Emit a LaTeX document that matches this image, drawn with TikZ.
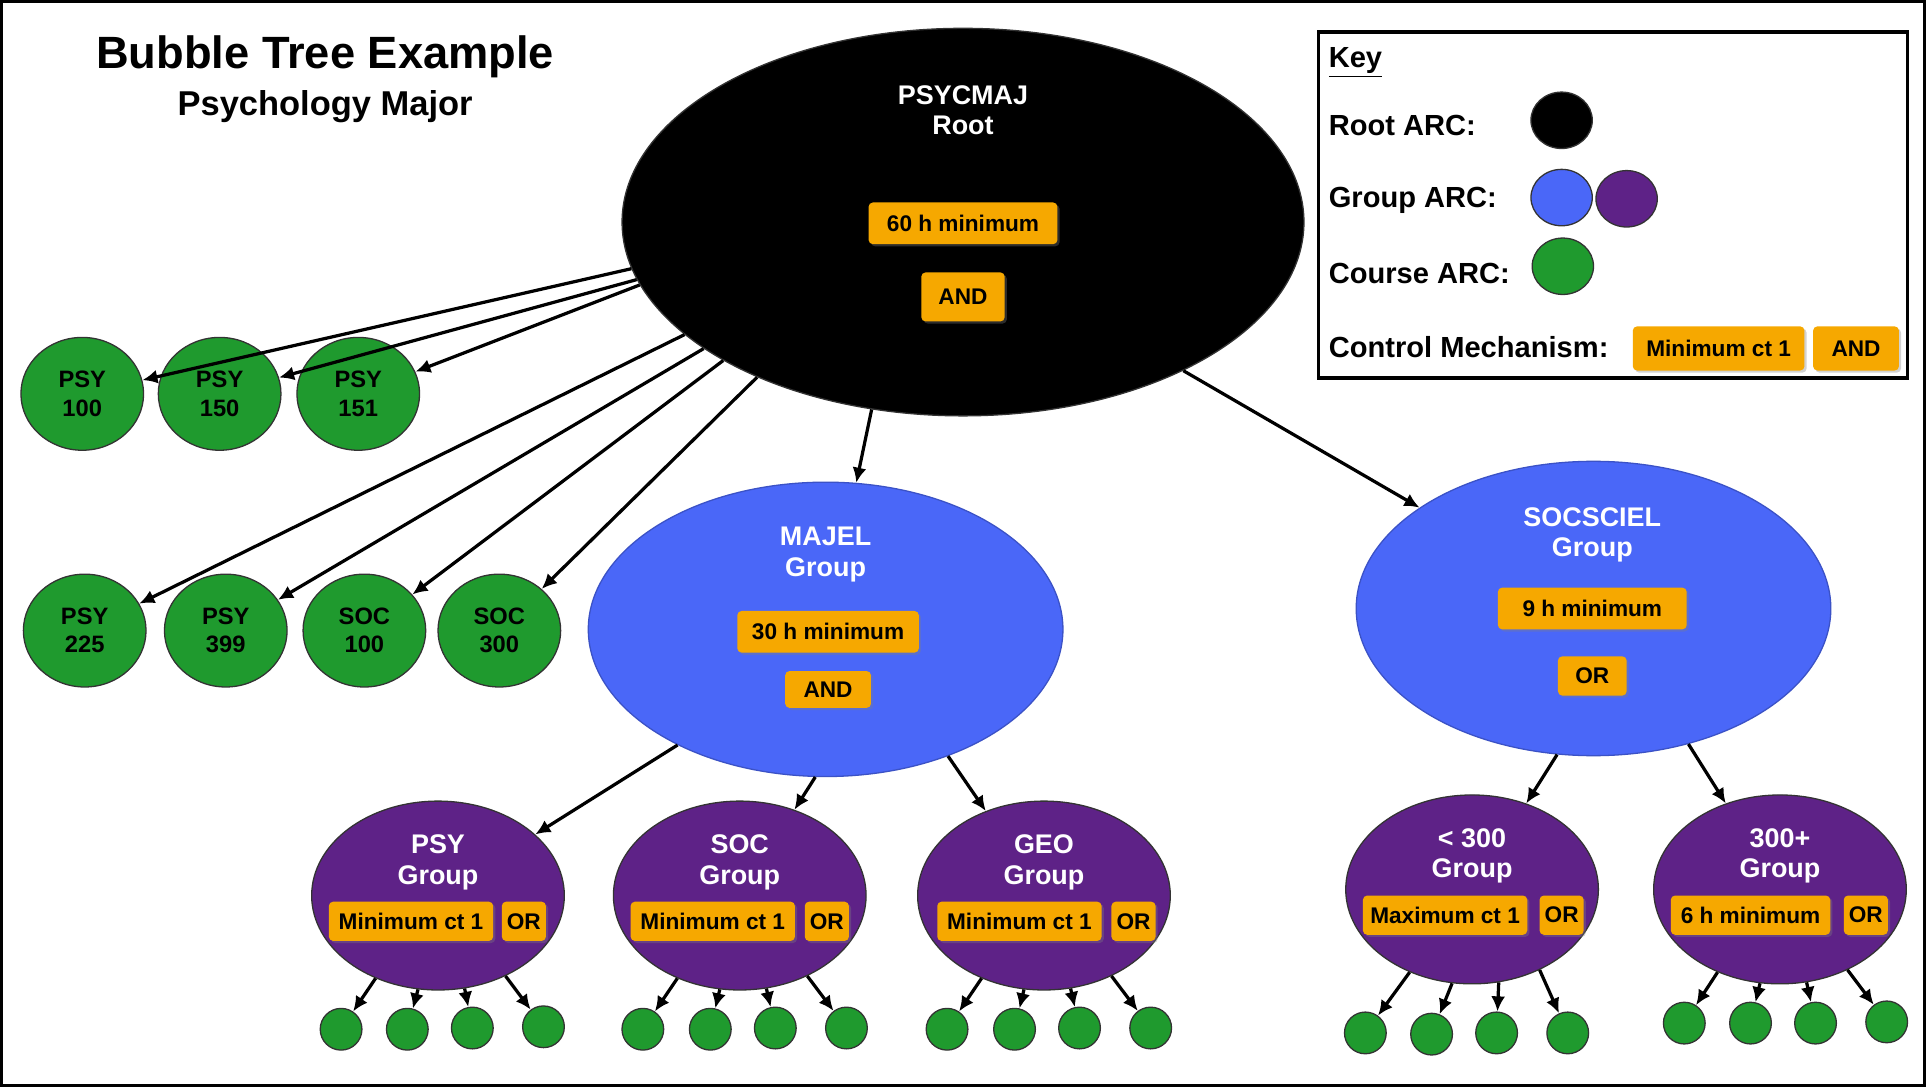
\documentclass[tikz,border=0pt]{standalone}
\usepackage{fontspec}
\setmainfont{Liberation Sans}
\usetikzlibrary{shapes.geometric,arrows.meta,shadows}
\definecolor{cblue}{HTML}{4A67F8}
\definecolor{cpurp}{HTML}{5E2287}
\definecolor{cgreen}{HTML}{1F9A2E}
\definecolor{corange}{HTML}{F6A800}
\begin{document}
\begin{tikzpicture}[x=0.02cm,y=-0.02cm,
  bub/.style={ellipse,inner sep=0pt,draw=black!80,line width=0.6pt},
  rootb/.style={bub,fill=black,minimum width=11.12cm,minimum height=6.32cm},
  grpb/.style={bub,fill=cblue,draw=cblue!80!black,minimum width=7.74cm,minimum height=4.8cm},
  subb/.style={bub,fill=cpurp,minimum width=4.12cm,minimum height=3.08cm},
  crs/.style={bub,fill=cgreen,minimum width=2.0cm,minimum height=1.84cm,font=\bfseries\fontsize{11}{13}\selectfont,align=center},
  leaf/.style={bub,fill=cgreen,minimum width=0.68cm,minimum height=0.68cm},
  wtxt/.style={text=white,font=\bfseries\fontsize{12.5}{14}\selectfont,align=center},
  ctl/.style={fill=corange,rounded corners=2pt,font=\bfseries\fontsize{10.5}{12}\selectfont,inner sep=0pt,minimum height=0.68cm,drop shadow={opacity=0.35,shadow xshift=1pt,shadow yshift=-1pt}},
  arr/.style={-{Latex[length=7pt,width=6.5pt]},line width=1.5pt},
  keyt/.style={anchor=west,font=\bfseries\fontsize{13.5}{15}\selectfont}]
\draw[line width=1.2pt,fill=white] (0,0) rectangle (1568,884);
\useasboundingbox (0,0) rectangle (1568,884);
% title
\node[font=\bfseries\fontsize{21}{24}\selectfont] (title) at (264,45) {Bubble Tree Example};
\node[font=\bfseries\fontsize{16}{18}\selectfont] (sub) at (264,86) {Psychology Major};
% root
\node[rootb] (root) at (784,180) {};
\node[wtxt] (rootl) at (784,89) {PSYCMAJ\\Root};
\node[ctl,minimum width=3.08cm] (rmin) at (784,181) {60 h minimum};
\node[ctl,minimum width=1.36cm,minimum height=0.8cm] (rand) at (784,241) {AND};
% courses
\node[crs] (c1) at (66,320) {PSY\\100};
\node[crs] (c2) at (178,320) {PSY\\150};
\node[crs] (c3) at (291,320) {PSY\\151};
\node[crs] (c4) at (68,513) {PSY\\225};
\node[crs] (c5) at (183,513) {PSY\\399};
\node[crs] (c6) at (296,513) {SOC\\100};
\node[crs] (c7) at (406,513) {SOC\\300};
\draw[arr] (root.188.8) -- (c1);
\draw[arr] (root.190.3) -- (c2);
\draw[arr] (root.191.8) -- (c3);
\draw[arr] (root.202.5) -- (c4);
\draw[arr] (root.206) -- (c5);
\draw[arr] (root.210.7) -- (c6);
\draw[arr] (root.217.9) -- (c7);
% groups
\node[grpb] (maj) at (672,512) {};
\node[wtxt] (majl) at (672,451) {MAJEL\\Group};
\node[ctl,minimum width=2.96cm] (mmin) at (674,514) {30 h minimum};
\node[ctl,minimum width=1.4cm,minimum height=0.6cm] (mand) at (674,561) {AND};
\node[grpb] (soc) at (1298,495) {};
\node[wtxt] (socl) at (1297,435) {SOCSCIEL\\Group};
\node[ctl,minimum width=3.08cm] (smin) at (1297,495) {9 h minimum};
\node[ctl,minimum width=1.12cm,minimum height=0.64cm] (sor) at (1297,550) {OR};
\draw[arr] (root.244) -- (maj);
\draw[arr] (root.326.4) -- (soc);
% subgroups
\foreach \n/\x/\y/\a/\b/\bx/\ox/\bw in {
  gp/356/729/PSY/Minimum ct 1/334/426/2.68,
  gs/602/729/SOC/Minimum ct 1/580/673/2.68,
  gg/850/729/GEO/Minimum ct 1/830/923/2.68,
  gl/1199/724/< 300/Maximum ct 1/1177/1272/2.68,
  gh/1450/724/300+/6 h minimum/1426/1520/2.6}{
  \node[subb] (\n) at (\x,\y) {};
  \node[wtxt] (\n l) at (\x,\y-27) {\a\\Group};
  \node[ctl,minimum width=\bw cm,minimum height=0.64cm] (\n c) at (\bx,\y+21) {\b};
  \node[ctl,minimum width=0.72cm,minimum height=0.64cm] (\n o) at (\ox,\y+21) {OR};
}
\draw[arr] (maj.218) -- (gp);
\draw[arr] (maj.266) -- (gs);
\draw[arr] (maj.314) -- (gg);
\draw[arr] (soc.256) -- (gl);
\draw[arr] (soc.305) -- (gh);
% leaves
\foreach \n/\y/\xa/\xb/\xc/\xd/\ya/\yb/\yc/\yd in {
  gp/0/277/331/384/442/838/838/837/836,
  gs/0/523/578/631/689/838/838/837/837,
  gg/0/771/826/879/937/838/838/837/837,
  gl/0/1112/1166/1219/1277/841/842/841/841,
  gh/0/1372/1426/1479/1537/833/833/833/832}{
  \node[leaf] (\n 1) at (\xa,\ya) {};
  \node[leaf] (\n 2) at (\xb,\yb) {};
  \node[leaf] (\n 3) at (\xc,\yc) {};
  \node[leaf] (\n 4) at (\xd,\yd) {};
  \draw[arr] (\n.233) -- (\n 1);
  \draw[arr] (\n.258.5) -- (\n 2);
  \draw[arr] (\n.286) -- (\n 3);
  \draw[arr] (\n.310.6) -- (\n 4);
}
% key
\draw[line width=1.5pt] (1074,25) rectangle (1554,307);
\node[keyt] (kk) at (1076,50) {\underline{Key}};
\node[keyt] (kr) at (1076,101) {Root ARC:};
\node[keyt] (kg) at (1076,162) {Group ARC:};
\node[keyt] (kc) at (1076,222) {Course ARC:};
\node[keyt] (km) at (1076,282) {Control Mechanism:};
\node[bub,fill=black,minimum width=1.0cm,minimum height=0.92cm] (k1) at (1272,97) {};
\node[bub,fill=cblue,minimum width=1.0cm,minimum height=0.92cm] (k2) at (1272,160) {};
\node[bub,fill=cpurp,minimum width=1.0cm,minimum height=0.92cm] (k3) at (1325,161) {};
\node[bub,fill=cgreen,minimum width=1.0cm,minimum height=0.92cm] (k4) at (1273,216) {};
\node[ctl,minimum width=2.8cm,minimum height=0.72cm] (k5) at (1400,283) {Minimum ct 1};
\node[ctl,minimum width=1.4cm,minimum height=0.72cm] (k6) at (1512,283) {AND};
\end{tikzpicture}
\end{document}
